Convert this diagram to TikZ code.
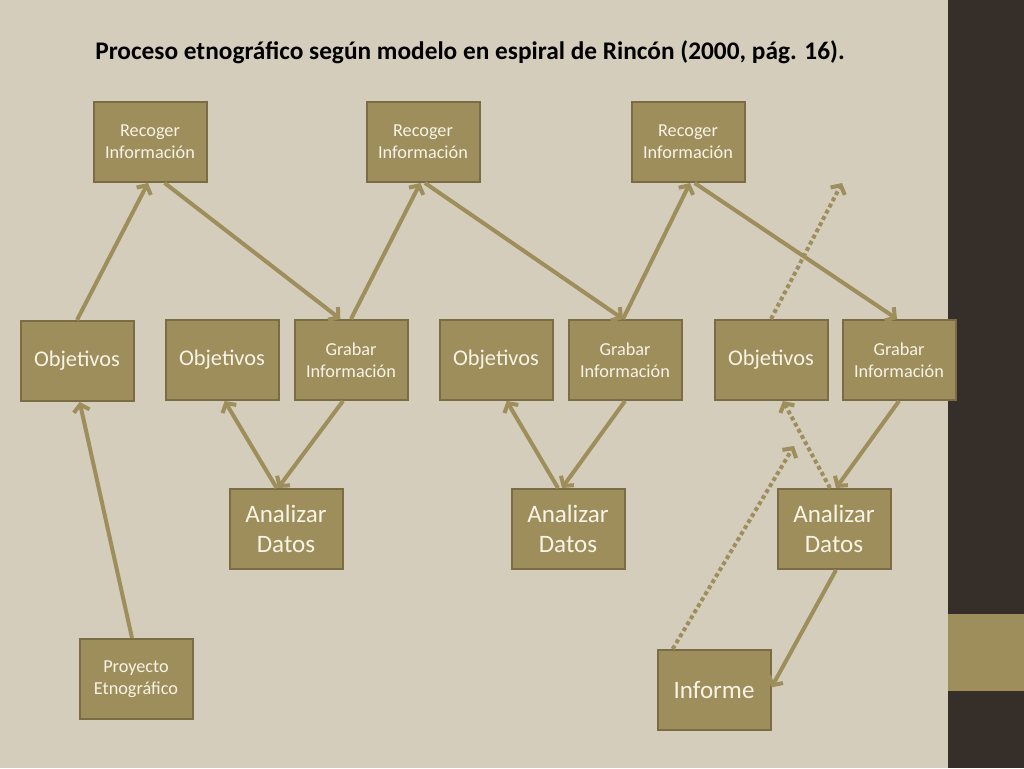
\documentclass[tikz,border=0pt]{standalone}
\usepackage{fontspec}
\setmainfont{Carlito}
\usetikzlibrary{arrows.meta}
\definecolor{fondo}{RGB}{212,205,187}
\definecolor{oscuro}{RGB}{54,46,41}
\definecolor{caqui}{RGB}{158,142,92}
\definecolor{borde}{RGB}{122,109,70}
\definecolor{crema}{RGB}{247,243,230}
\tikzset{
  caja/.style={rectangle,draw=borde,line width=1.5pt,fill=caqui,text=crema,minimum width=84.75pt,minimum height=60pt,inner sep=0pt,align=center},
  chica/.style={caja,font=\fontsize{13.7}{16.5}\selectfont},
  media/.style={caja,font=\fontsize{16.8}{20}\selectfont},
  grande/.style={caja,font=\fontsize{18.8}{22.5}\selectfont},
  flecha/.style={draw=caqui,line width=3pt,-{Straight Barb[length=5pt,width=12pt]}},
  punteada/.style={flecha,dash pattern=on 3pt off 2.25pt}
}
\begin{document}
\begin{tikzpicture}[x=0.75pt,y=-0.75pt]
\fill[fondo] (0,0) rectangle (1024,768);
\fill[oscuro] (948,0) rectangle (1024,768);
\fill[caqui] (948,614) rectangle (1024,691);
\node at (470,52)[font=\fontsize{19}{23}\selectfont\bfseries](titulo){Proceso etnográfico según modelo en espiral de Rincón (2000, pág. 16).};
\node at (150,142)[chica](r1){Recoger\\Información};
\node at (423,142)[chica](r2){Recoger\\Información};
\node at (688,142)[chica](r3){Recoger\\Información};
\node at (77,361)[media](o1){Objetivos};
\node at (222,360)[media](o2){Objetivos};
\node at (496,360)[media](o3){Objetivos};
\node at (771,360)[media](o4){Objetivos};
\node at (351,360)[chica](g1){Grabar\\Información};
\node at (625,360)[chica](g2){Grabar\\Información};
\node at (899,360)[chica](g3){Grabar\\Información};
\node at (286,529)[grande](a1){Analizar\\Datos};
\node at (568,529)[grande](a2){Analizar\\Datos};
\node at (834,529)[grande](a3){Analizar\\Datos};
\node at (136,679)[chica](p){Proyecto\\Etnográfico};
\node at (714,690)[grande](inf){Informe};
\coordinate (c1) at (842,183);
\coordinate (c2) at (794,446);
\draw[flecha] (o1.north) -- ([xshift=-1.5pt]r1.south);
\draw[flecha] ([xshift=11pt]r1.south) -- ([xshift=-8pt]g1.north);
\draw[flecha] (g1.north) -- ([xshift=-2pt]r2.south);
\draw[flecha] ([xshift=1.5pt]r2.south) -- ([xshift=-1.5pt]g2.north);
\draw[flecha] ([xshift=-1.5pt]g2.north) -- ([xshift=1.5pt]r3.south);
\draw[flecha] ([xshift=5pt]r3.south) -- ([xshift=-1.5pt]g3.north);
\draw[punteada] (o4.north) -- (c1);
\draw[flecha] ([xshift=-3pt]p.north) -- ([xshift=2pt]o1.south);
\draw[flecha] ([xshift=-7pt]a1.north) -- ([xshift=2pt]o2.south);
\draw[flecha] ([xshift=-6pt]g1.south) -- ([xshift=-6pt]a1.north);
\draw[flecha] ([xshift=-7.5pt]a2.north) -- ([xshift=8pt]o3.south);
\draw[flecha] (g2.south) -- ([xshift=-4.5pt]a2.north);
\draw[flecha] (g3.south) -- ([xshift=1.5pt]a3.north);
\draw[punteada] ([xshift=-3pt]a3.north) -- ([xshift=9pt]o4.south);
\draw[punteada] ([xshift=-31pt]inf.north) -- (c2);
\draw[flecha] ([xshift=1.5pt]a3.south) -- ([yshift=2pt]inf.east);
\end{tikzpicture}
\end{document}
